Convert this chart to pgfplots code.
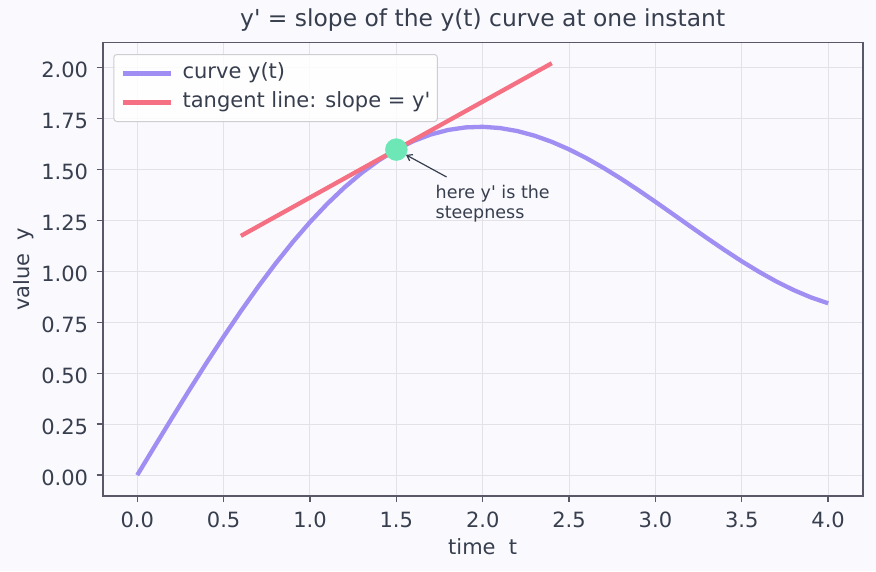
\documentclass[border=0pt]{standalone}
\usepackage{fontspec}
\setmainfont{DejaVu Sans}[Ligatures=TeXOff]
\usepackage{pgfplots}
\pgfplotsset{compat=1.18}
\usetikzlibrary{arrows.meta}
\definecolor{bg}{RGB}{250,250,254}
\definecolor{txt}{RGB}{55,62,78}
\definecolor{framec}{RGB}{88,88,105}
\definecolor{gridc}{RGB}{226,226,232}
\definecolor{curvec}{RGB}{160,142,242}
\definecolor{tanc}{RGB}{244,112,130}
\definecolor{dotc}{RGB}{110,231,183}
\definecolor{legc}{RGB}{205,205,210}
\begin{document}
\begin{tikzpicture}
\fill[bg] (0pt,0pt) rectangle (876pt,571pt);
\begin{axis}[
  at={(102.7pt,75.3pt)}, anchor=south west,
  scale only axis, width=760pt, height=453pt,
  xmin=-0.2, xmax=4.2, ymin=-0.101, ymax=2.122,
  axis background/.style={fill=bg},
  xtick={0,0.5,1,1.5,2,2.5,3,3.5,4},
  ytick={0,0.25,0.5,0.75,1,1.25,1.5,1.75,2},
  tick pos=left, tick align=outside, major tick length=6pt,
  tick style={framec, line width=1.4pt},
  axis line style={framec, line width=1.6pt},
  grid=major, major grid style={gridc, line width=1pt},
  tick label style={font=\fontsize{21}{25}\selectfont, text=txt},
  xticklabel style={anchor=north, inner sep=0pt, yshift=-10pt, /pgf/number format/.cd, fixed, fixed zerofill, precision=1, assume math mode=true},
  yticklabel style={anchor=base east, inner sep=0pt, xshift=-8.4pt, yshift=-10pt, /pgf/number format/.cd, fixed, fixed zerofill, precision=2, assume math mode=true},
  scaled ticks=false,
  title={y' = slope of the y(t) curve at one instant},
  title style={at={(axis description cs:0.5,1.0236)}, anchor=base, inner sep=0pt, font=\fontsize{23.4}{28}\selectfont, text=txt},
  xlabel={time\ \ t},
  xlabel style={at={(axis description cs:0.5,-0.1287)}, anchor=base, inner sep=0pt, font=\fontsize{21}{25}\selectfont, text=txt},
  ylabel={value\ \ y},
  ylabel style={at={(axis description cs:-0.0957,0.5)}, anchor=base, inner sep=0pt, font=\fontsize{21}{25}\selectfont, text=txt},
  legend cell align=left,
  legend image code/.code={\draw[#1] (0pt,0pt) -- (48pt,0pt); \path (57.5pt,0pt);},
  legend style={at={(axis description cs:0.01395,0.975)}, anchor=north west,
    draw=legc, line width=1pt, fill=white, fill opacity=0.85, text opacity=1,
    rounded corners=3pt, inner xsep=7pt, inner ysep=9pt, row sep=9pt,
    font=\fontsize{21}{25}\selectfont, text=txt,
    nodes={inner sep=0pt, text height=15pt, text depth=5pt}},
]
\addplot[curvec, line width=4.3pt] coordinates {
(0.0,0.0000) (0.1,0.1398) (0.2,0.2787) (0.3,0.4155) (0.4,0.5494)
(0.5,0.6794) (0.6,0.8046) (0.7,0.9242) (0.8,1.0374) (0.9,1.1433)
(1.0,1.2415) (1.1,1.3312) (1.2,1.4120) (1.3,1.4836) (1.4,1.5454)
(1.5,1.5975) (1.6,1.6396) (1.7,1.6717) (1.8,1.6938) (1.9,1.7063)
(2.0,1.7093) (2.1,1.7032) (2.2,1.6885) (2.3,1.6657) (2.4,1.6355)
(2.5,1.5985) (2.6,1.5555) (2.7,1.5074) (2.8,1.4550) (2.9,1.3992)
(3.0,1.3411) (3.1,1.2816) (3.2,1.2216) (3.3,1.1623) (3.4,1.1045)
(3.5,1.0492) (3.6,0.9975) (3.7,0.9502) (3.8,0.9081) (3.9,0.8722)
(4.0,0.8432)};
\addlegendentry{curve y(t)}
\addplot[tanc, line width=4.3pt] coordinates {(0.6,1.1739) (2.4,2.0211)};
\addlegendentry{tangent line: slope = y'}
\addplot[only marks, mark=*, mark size=11pt, color=dotc, forget plot] coordinates {(1.5,1.5975)};
\draw[txt, line width=1.2pt, -{Straight Barb[length=5pt,width=7pt]}, shorten >=11pt] (axis cs:1.791,1.463) -- (axis cs:1.5,1.5975);
\node[anchor=north west, inner sep=0pt, align=left, font=\fontsize{17.5}{20.5}\selectfont, text=txt] at (axis cs:1.727,1.424) {here y' is the\\steepness};
\end{axis}
\end{tikzpicture}
\end{document}
